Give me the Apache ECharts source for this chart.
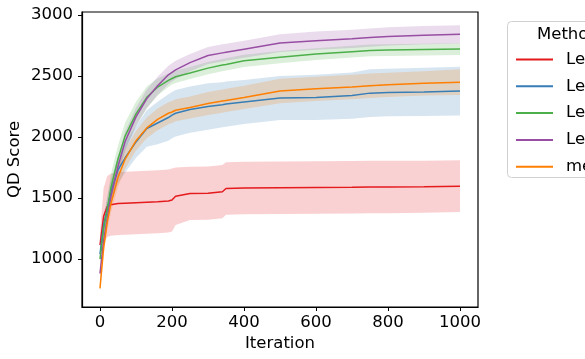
<!DOCTYPE html>
<html>
<head>
<meta charset="utf-8">
<script src="https://cdn.jsdelivr.net/npm/echarts@6/dist/echarts.min.js"></script>
<style>
  html, body { margin: 0; padding: 0; background: #fff; }
  #chart { width: 585px; height: 359px; }
</style>
</head>
<body>
<div id="chart"></div>
<script>
var iters = [0, 10, 20, 30, 50, 70, 100, 130, 160, 190, 200, 210, 250, 300, 340, 350, 400, 500, 600, 700, 750, 800, 900, 1000]

var methods = ['Lexicase', 'Lexicase-ES', 'Lexicase-DQD', 'Lexicase-MAE', 'me-es']
var colors = ['#e41a1c', '#377eb8', '#4daf4a', '#984ea3', '#ff7f00']

// mean QD score per method
var redMean = [1115, 1350, 1430, 1445, 1455, 1458, 1462, 1466, 1470, 1476, 1484, 1515, 1538, 1540, 1552, 1578, 1582, 1584, 1586, 1588, 1590, 1591, 1593, 1597]
var blueMean = [1040, 1280, 1410, 1550, 1730, 1830, 1960, 2070, 2115, 2160, 2180, 2195, 2225, 2250, 2265, 2270, 2288, 2320, 2325, 2340, 2360, 2365, 2370, 2377]
var greenMean = [1000, 1250, 1400, 1580, 1820, 2010, 2190, 2325, 2410, 2465, 2480, 2494, 2525, 2565, 2590, 2595, 2625, 2655, 2680, 2700, 2710, 2713, 2717, 2721]
var purpleMean = [880, 1150, 1330, 1510, 1760, 1965, 2165, 2315, 2420, 2510, 2530, 2550, 2610, 2668, 2690, 2695, 2720, 2770, 2790, 2805, 2815, 2825, 2835, 2842]
var orangeMean = [760, 1090, 1300, 1450, 1670, 1820, 1970, 2075, 2145, 2195, 2205, 2220, 2243, 2275, 2295, 2300, 2325, 2377, 2395, 2410, 2420, 2428, 2440, 2450]

// half-width of the shaded band
var redCi = [100, 230, 250, 255, 258, 258, 258, 258, 258, 259, 259, 235, 218, 218, 218, 215, 215, 215, 215, 215, 215, 215, 213, 212]
var blueCi = [40, 70, 90, 100, 110, 120, 130, 150, 175, 190, 190, 190, 190, 190, 185, 185, 180, 180, 185, 190, 195, 195, 198, 200]
var greenCi = [40, 80, 100, 110, 110, 110, 100, 90, 70, 55, 50, 50, 50, 50, 50, 50, 50, 50, 48, 48, 48, 48, 48, 48]
var purpleCi = [40, 60, 70, 75, 80, 80, 75, 75, 75, 75, 75, 75, 70, 70, 70, 70, 70, 72, 75, 75, 75, 75, 75, 75]
var orangeCi = [30, 60, 70, 75, 80, 80, 80, 85, 90, 90, 90, 90, 90, 95, 95, 95, 95, 100, 100, 100, 100, 100, 100, 105]

var xTicks = [0, 200, 400, 600, 800, 1000]
var yTicks = [1000, 1500, 2000, 2500, 3000]

var means = [redMean, blueMean, greenMean, purpleMean, orangeMean]
var cis = [redCi, blueCi, greenCi, purpleCi, orangeCi]

var font = 'DejaVu Sans'
var series = []

// shaded bands: one polygon per method, built from the axis scales
means.forEach(function (m, k) {
  var rows = iters.map(function (x, i) { return [x, m[i] - cis[k][i], m[i] + cis[k][i]] })
  series.push({
    name: 'band' + k, type: 'custom', silent: true, z: 1,
    data: rows,
    encode: { x: 0, y: [1, 2] },
    renderItem: function (params, api) {
      if (params.dataIndex !== 0) return null
      var pts = []
      rows.forEach(function (r) { pts.push(api.coord([r[0], r[2]])) })
      for (var i = rows.length - 1; i >= 0; i--) pts.push(api.coord([rows[i][0], rows[i][1]]))
      return {
        type: 'polygon',
        shape: { points: pts },
        style: { fill: colors[k], opacity: 0.2 }
      }
    }
  })
})

means.forEach(function (m, k) {
  series.push({
    name: methods[k], type: 'line', z: 3,
    data: iters.map(function (x, i) { return [x, m[i]] }),
    symbol: 'none', color: colors[k],
    lineStyle: { width: 1.5, color: colors[k] }
  })
})

var chart = echarts.init(document.getElementById('chart'))
chart.setOption({
  animation: false,
  grid: {
    left: 82, right: 107, top: 12, bottom: 52, outerBoundsMode: 'none', containLabel: false,
    show: true, borderColor: '#000', borderWidth: 1.2
  },
  xAxis: {
    type: 'value', min: -50, max: 1050,
    name: 'Iteration', nameLocation: 'middle', nameGap: 28, nameMoveOverlap: false,
    nameTextStyle: { fontFamily: font, fontSize: 16.5, color: '#000' },
    axisLine: { show: true, onZero: false, lineStyle: { color: '#000', width: 1.2 } },
    axisTick: { show: true, length: 4, lineStyle: { color: '#000' }, customValues: xTicks },
    axisLabel: {
      fontFamily: font, fontSize: 16.5, color: '#000', margin: 7, customValues: xTicks,
      formatter: function (v) { return String(v) }
    },
    splitLine: { show: false }
  },
  yAxis: {
    type: 'value', min: 607, max: 3025,
    name: 'QD Score', nameLocation: 'middle', nameGap: 59, nameRotate: 90, nameMoveOverlap: false,
    nameTextStyle: { fontFamily: font, fontSize: 16.5, color: '#000' },
    axisLine: { show: true, onZero: false, lineStyle: { color: '#000', width: 1.2 } },
    axisTick: { show: true, length: 4, lineStyle: { color: '#000' }, customValues: yTicks },
    axisLabel: {
      fontFamily: font, fontSize: 16.5, color: '#000', margin: 9, customValues: yTicks,
      formatter: function (v) { return String(v) }
    },
    splitLine: { show: false }
  },
  legend: {
    data: methods, orient: 'vertical', left: 511, top: 46,
    icon: 'rect', itemWidth: 37, itemHeight: 2, itemGap: 9.8,
    textStyle: { fontFamily: font, fontSize: 16.5, color: '#000', padding: [0, 0, 0, 8] }
  },
  graphic: [
    {
      type: 'rect', left: 507, top: 21, z: 0,
      shape: { width: 120, height: 156, r: 4 },
      style: { fill: '#fff', stroke: '#d0d0d0', lineWidth: 1 }
    },
    {
      type: 'text', left: 537, top: 26, z: 5,
      style: { text: 'Method', font: '16.5px "DejaVu Sans"', fill: '#000' }
    }
  ],
  series: series
})
</script>
</body>
</html>
